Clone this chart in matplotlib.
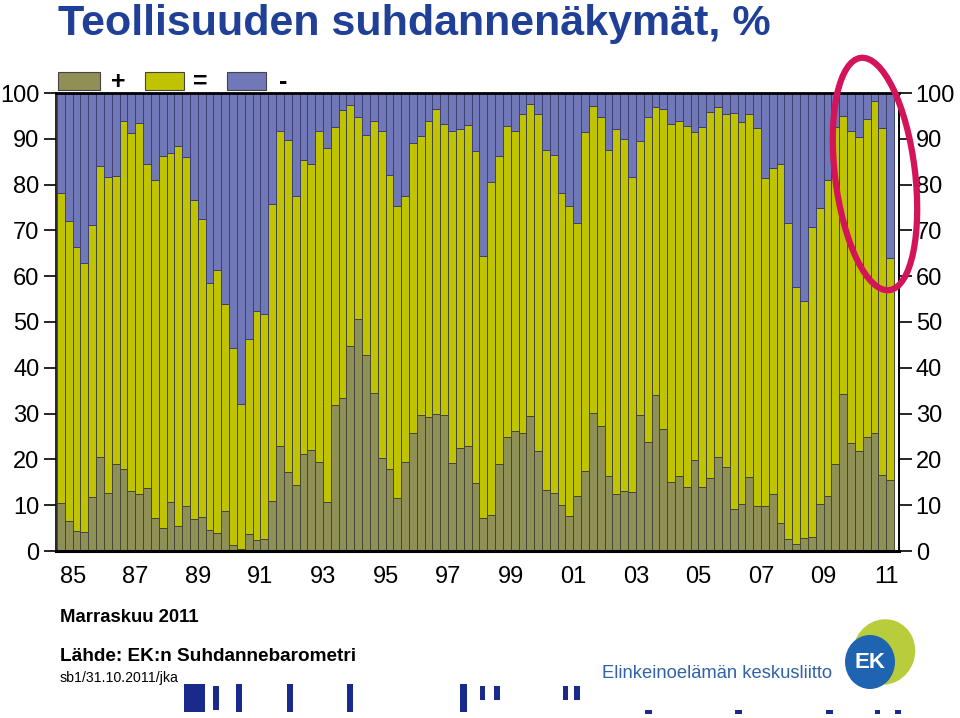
import numpy as np
import matplotlib
matplotlib.use("Agg")
from matplotlib import pyplot as plt
from matplotlib.patches import Rectangle, Ellipse
from matplotlib.transforms import IdentityTransform

# Teollisuuden suhdannenäkymät, kvartaaleittain 1985Q1 - 2011Q3
# plus = "paranee" (+), minus = "heikkenee" (-), loput "ennallaan" (=)
plus = [10.5, 6.6, 4.4, 4.2, 11.8, 20.6, 12.6, 18.9, 17.8, 13.0, 12.4, 13.7, 7.3, 5.1, 10.7, 5.5, 9.9, 6.9,
        7.5, 4.5, 3.9, 8.8, 1.3, 0.4, 3.7, 2.3, 2.6, 11.0, 23.0, 17.2, 14.5, 21.2, 22.1, 19.4, 10.8, 31.8,
        33.3, 44.7, 50.6, 42.8, 34.4, 20.3, 17.9, 11.5, 19.5, 25.7, 29.6, 29.3, 30.0, 29.8, 19.2, 22.4, 23.0, 14.8,
        7.2, 7.9, 18.9, 25.0, 26.3, 25.7, 29.4, 21.9, 13.4, 12.6, 10.1, 7.7, 12.1, 17.5, 30.1, 27.2, 16.3, 12.4,
        13.2, 12.8, 29.6, 23.8, 34.0, 26.7, 15.1, 16.4, 14.0, 19.9, 14.0, 15.9, 20.6, 18.4, 9.1, 10.2, 16.2, 9.9,
        9.9, 12.4, 6.2, 2.7, 1.5, 2.9, 3.1, 10.2, 12.1, 19.0, 34.2, 23.5, 21.9, 25.0, 25.7, 16.6, 15.5]
minus = [21.8, 28.0, 33.7, 37.1, 28.9, 15.9, 18.3, 18.1, 6.1, 8.8, 6.6, 15.4, 19.0, 13.7, 13.0, 11.5, 14.0, 23.4,
         27.6, 41.5, 38.7, 46.1, 55.6, 67.8, 53.8, 47.7, 48.3, 24.2, 8.3, 10.3, 22.5, 14.6, 15.6, 8.3, 12.1, 7.4,
         3.7, 2.6, 5.2, 9.1, 6.1, 8.3, 17.9, 24.7, 22.5, 11.0, 9.4, 6.2, 3.4, 6.7, 8.4, 7.9, 6.9, 12.6,
         35.5, 19.4, 13.7, 7.2, 8.3, 4.5, 2.4, 4.5, 12.5, 13.6, 21.9, 24.7, 28.4, 8.5, 2.9, 5.3, 12.5, 7.9,
         10.1, 18.3, 10.5, 5.2, 3.1, 3.5, 6.7, 6.1, 7.2, 8.6, 7.4, 4.2, 3.1, 4.6, 4.4, 6.4, 4.5, 7.7,
         18.5, 16.3, 15.6, 28.4, 42.4, 45.5, 29.3, 25.1, 18.9, 7.5, 5.0, 8.4, 9.6, 5.6, 1.7, 7.7, 36.1]
years = list(range(1985, 2012, 2))
year_labels = ["85", "87", "89", "91", "93", "95", "97", "99", "01", "03", "05", "07", "09", "11"]

plus = np.array(plus)
minus = np.array(minus)
equal = 100 - plus - minus

c_plus = "#8f9055"
c_equal = "#c0c400"
c_minus = "#7078b8"
edge = "#45453a"

plt.rcParams['font.family'] = ['Liberation Sans', 'DejaVu Sans']

fig = plt.figure(figsize=(9.6, 7.18), dpi=100)
ax = fig.add_axes([56/960, (718-551)/718, (899-56)/960, (551-93)/718])

x = np.arange(len(plus))
ax.bar(x, plus, width=1.0, color=c_plus, edgecolor=edge, linewidth=0.7)
ax.bar(x, equal, width=1.0, bottom=plus, color=c_equal, edgecolor=edge, linewidth=0.7)
ax.bar(x, minus, width=1.0, bottom=plus+equal, color=c_minus, edgecolor="#3c4070", linewidth=0.7)

ax.set_xlim(-0.63, 107.14)
ax.set_ylim(0, 100)
ax.set_xticks([(y - 1985)*4 + 1.5 for y in years])
ax.set_xticklabels(year_labels)
ax.set_yticks(range(0, 101, 10))
ax.tick_params(axis='x', length=0, pad=11, labelsize=17)
ax.tick_params(axis='y', length=9, width=1.2, direction='out', pad=3, labelsize=17)
for s in ax.spines.values():
    s.set_color("black")
    s.set_linewidth(1.2)
ax.spines['top'].set_linewidth(2)
ax.spines['bottom'].set_linewidth(2.2)

ax2 = ax.twinx()
ax2.set_ylim(0, 100)
ax2.set_yticks(range(0, 101, 10))
ax2.tick_params(axis='y', length=9, width=1.2, direction='out', pad=3, labelsize=17)
for s in ax2.spines.values():
    s.set_visible(False)
ax2.spines['right'].set_visible(True)
ax2.spines['right'].set_linewidth(1.2)

# otsikko
fig.text(58/960, 1 - 35/718, "Teollisuuden suhdannenäkymät, %", fontsize=31, fontweight='bold',
         color="#1f4096", va='baseline', ha='left')

# selite
leg = [(58, 100, c_plus, 118, "+"), (145, 184, c_equal, 200, "="), (227, 266, c_minus, 283, "-")]
for x0, x1, col, tx, lab in leg:
    fig.add_artist(Rectangle((x0/960, 1 - 90/718), (x1-x0)/960, 18/718, transform=fig.transFigure,
                             facecolor=col, edgecolor="#444444", linewidth=0.8))
    fig.text(tx/960, 1 - 82/718, lab, fontsize=18, fontweight='bold', ha='center', va='center')

# punainen ympyrä
fig.add_artist(Ellipse((875, 718-174), 80, 234, angle=7, transform=IdentityTransform(),
                       fill=False, edgecolor="#d4145a", linewidth=4.5, clip_on=False))

# alateksti
fig.text(60/960, 1 - 622/718, "Marraskuu 2011", fontsize=13.3, fontweight='bold', va='baseline')
fig.text(60/960, 1 - 661/718, "Lähde: EK:n Suhdannebarometri", fontsize=13.7, fontweight='bold',
         va='baseline')
fig.text(60/960, 1 - 682/718, "sb1/31.10.2011/jka", fontsize=10.2, va='baseline')
fig.text(602/960, 1 - 678/718, "Elinkeinoelämän keskusliitto", fontsize=13.2,
         color="#2f62a8", va='baseline')

# EK-logo
fig.add_artist(Ellipse((884, 718-652), 62, 66, angle=-20, transform=IdentityTransform(),
                       facecolor="#b8cc3c", edgecolor="none"))
fig.add_artist(Ellipse((870, 718-662), 50, 54, transform=IdentityTransform(),
                       facecolor="#1e64b0", edgecolor="none"))
fig.text(870/960, 1 - 662/718, "EK", fontsize=16, fontweight='bold', color="white", ha='center', va='center')

# tulostuksen roskamerkit alareunassa
navy = "#1a2a8a"
junk = [(184, 684, 205, 712), (213, 686, 219, 710), (236, 684, 242, 712), (287, 684, 293, 712),
        (347, 684, 353, 712), (460, 684, 467, 712), (480, 686, 485, 700), (494, 686, 500, 700),
        (563, 686, 568, 700), (574, 686, 580, 700), (645, 710, 652, 714), (735, 710, 742, 714),
        (826, 710, 833, 714), (875, 710, 880, 714), (895, 710, 901, 714)]
for x0, y0, x1, y1 in junk:
    fig.add_artist(Rectangle((x0, 718-y1), x1-x0, y1-y0, transform=IdentityTransform(),
                             facecolor=navy, edgecolor="none"))

fig.savefig("out.png", dpi=100)
